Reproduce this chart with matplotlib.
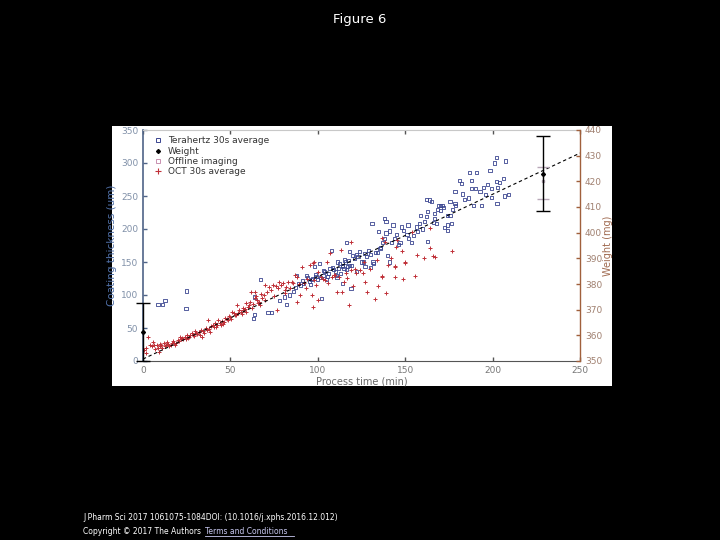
import matplotlib
matplotlib.use("Agg")
import matplotlib.pyplot as plt
from matplotlib.lines import Line2D

# ---------------- data ----------------
oct_t = [0.5, 1.5, 2, 3, 4, 5, 6, 7, 8, 9, 9.5, 10, 11, 12, 13, 14, 15, 16, 17, 18,
         19, 20, 21, 22, 23, 24, 25, 26, 27, 28, 29, 30, 31, 32, 33, 34, 35, 36, 37, 38,
         39, 40, 41, 42, 43, 44, 45, 46, 47, 48, 49, 50, 51, 52, 53, 54, 55, 56, 57, 58,
         59, 60, 61, 62, 63, 64, 65, 66, 68, 69,
         6.5, 8.5, 10.5, 12.5, 14.5, 16.5, 18.5, 20.5, 22.5, 24.5, 26.5, 28.5, 30.5, 32.5,
         34.5, 36.5, 38.5, 40.5, 42.5, 44.5, 46.5, 48.5, 50.5, 52.5, 54.5, 56.5, 58.5,
         60.5, 62.5, 64.5, 66.5, 67.5, 71, 73, 75, 77, 79, 81, 82, 86, 89,
         113, 107, 105, 95.5, 91, 100, 87, 80, 74.5, 70, 64, 90, 96.5, 111, 114, 100, 97,
         118, 76.5, 59, 57, 67, 70, 72, 76, 78, 83, 85, 88, 92, 94, 98, 103, 106, 108,
         110, 112, 115, 119, 122, 97.4, 98, 88, 84, 81, 93, 99, 102, 104, 109, 116, 121,
         136.5, 138.6, 145.5, 148, 145, 153.7, 164, 164, 161, 167, 150, 142, 134, 144,
         136.5, 144, 155.6, 124, 127, 120, 116.5, 134.7, 126.7, 119, 126, 137, 149, 139,
         133, 128, 166, 177, 144, 150, 130, 140, 157]
oct_thickness = [17, 12, 20, 36, 25, 22, 29, 18, 24, 14, 22, 26, 20, 27, 24, 29, 22, 25, 30, 27,
                 28, 32, 37, 33, 34, 36, 39, 35, 40, 42, 38, 45, 41, 44, 47, 36, 42, 50, 62, 48,
                 53, 55, 57, 52, 62, 58, 60, 56, 65, 63, 68, 66, 75, 72, 70, 85, 78, 74, 80, 77,
                 75, 82, 90, 105, 86, 95, 92, 88, 96, 100,
                 25, 20, 24, 22, 26, 28, 25, 30, 35, 33, 37, 40, 43, 40, 45, 47, 44, 51, 55,
                 54, 59, 62, 63, 69, 73, 71, 79, 85, 80, 98, 90, 101, 104, 108, 98, 110, 115,
                 108, 112, 118, 116,
                 168, 163, 150, 145, 143, 135, 130, 118, 115, 115, 105, 100, 100, 105, 105, 92, 82,
                 85, 77, 88, 77, 85, 92, 112, 113, 120, 120, 120, 128, 118, 125, 123, 125, 118, 128,
                 130, 128, 120, 138, 133, 148, 150, 90, 110, 103, 110, 115, 127, 122, 130, 133, 140,
                 186, 180, 184, 166, 173, 196, 201, 171, 156, 158, 150, 156, 153, 143,
                 128, 128, 129, 138, 120, 113, 126, 113, 150, 181, 133, 129, 124, 103,
                 94, 104, 159, 167, 144, 148, 140, 146, 160]

thz_t = [8.6, 10.9, 12.6, 25, 24.6,
         63, 64, 64, 67, 71.5, 73.6, 78, 81, 82, 86, 88, 93.6, 96.5, 98, 100, 101, 102,
         105, 108, 111, 111.5, 114, 114, 116.5, 117, 118, 119, 120,
         84, 87, 90, 92, 95, 97, 99, 103, 104, 106, 107, 109, 110, 112, 113, 115, 116,
         89, 91, 94, 96, 98.5, 101.5, 103.5, 105.5, 108.5, 110.5, 112.5, 117.5, 119.5,
         114, 115.5, 116.5, 118, 121, 122, 122, 124, 127, 127, 130, 130, 131, 131.6,
         134.7, 135.6, 137, 138, 139, 139, 141, 141, 143, 145, 147, 148, 151, 151.6,
         153.7, 156.5, 158, 159, 162, 162, 163, 163, 164, 165, 167, 167, 168, 168.6,
         169, 170, 171.4, 172, 172.7, 174, 174, 174, 175.6, 175.6, 176.6, 178.5, 178.5,
         179, 181, 182, 183, 186, 187, 188, 188, 189, 191, 192.8, 193.7, 195, 197,
         198.5, 199.4, 199.4, 202, 202, 202.5, 203, 204, 206, 207, 207.6, 209, 201,
         125, 128, 133, 136, 144, 132, 140, 146, 155, 160,
         123, 126, 129, 134, 138, 142, 149, 152, 157, 161, 166, 170, 177, 184, 190, 196]
thz_thickness = [86, 85, 91, 106, 79,
                 65, 70, 97, 123, 73, 73, 92, 97, 85, 105, 130, 130, 123, 143, 123, 148, 95,
                 123, 168, 126, 150, 145, 118, 179, 143, 166, 110, 160,
                 100, 112, 115, 118, 120, 125, 128, 130, 135, 132, 140, 138, 135, 140, 132, 140, 150,
                 118, 122, 127, 116, 131, 127, 137, 128, 142, 130, 148, 152, 145,
                 143, 153, 138, 145, 155, 161, 136, 166, 163, 143, 161, 141, 209, 150,
                 196, 171, 179, 216, 194, 212, 197, 150, 206, 191, 179, 203, 191, 206,
                 179, 203, 209, 221, 245, 219, 226, 181, 244, 241, 216, 224, 209, 230,
                 235, 236, 236, 232, 202, 206, 221, 198, 221, 242, 209, 238, 257,
                 236, 274, 269, 253, 247, 286, 274, 262, 236, 286, 257, 235, 263, 268,
                 289, 262, 248, 308, 272, 238, 263, 271, 276, 250, 303, 252, 300,
                 150, 158, 165, 172, 185, 148, 160, 176, 190, 200,
                 158, 150, 168, 164, 186, 180, 198, 186, 196, 212, 210, 228, 230, 245, 262, 252]

fit_t = [0, 250]
fit_thickness = [3, 315]

weight_t = [0, 228.8]
weight_mg = [361.3, 423.0]
weight_err = [11.3, 14.5]

offline_t = [228.8]
offline_mg = [420.0]
offline_err_low = [7.0]
offline_err_high = [5.7]

x_ticks = [0, 50, 100, 150, 200, 250]
left_ticks = [0, 50, 100, 150, 200, 250, 300, 350]
right_ticks = [350, 360, 370, 380, 390, 400, 410, 420, 430, 440]

# ---------------- figure ----------------
plt.rcParams['font.family'] = ['DejaVu Sans']
fig = plt.figure(figsize=(7.2, 5.4), dpi=100, facecolor="black")

panel = fig.add_axes([112 / 720, 1 - 386 / 540, 500 / 720, 260 / 540])
panel.set_facecolor("white")
panel.set_xticks([]); panel.set_yticks([])
for s in panel.spines.values():
    s.set_visible(False)

ax = fig.add_axes([143 / 720, 1 - 361 / 540, 437 / 720, 231 / 540])
ax.set_facecolor("white")
ax2 = ax.twinx()

thz_col = "#3a4590"
oct_col = "#c03038"
off_col = "#c890b0"
left_col = "#4f6488"
right_col = "#a0603c"

ax.scatter(thz_t, thz_thickness, s=5, marker="s", facecolors="none",
           edgecolors=thz_col, linewidths=0.6, label="Terahertz 30s average", zorder=3)
ax.scatter(oct_t, oct_thickness, s=9, marker="+", color=oct_col,
           linewidths=0.7, label="OCT 30s average", zorder=3)
ax.plot(fit_t, fit_thickness, color="black", lw=0.8, ls=(0, (3, 2.5)), zorder=4)

ax2.errorbar(weight_t, weight_mg, yerr=weight_err, fmt="D", ms=2, color="black",
             ecolor="black", elinewidth=1.0, capsize=5, capthick=1.0, clip_on=False, zorder=5)
ax2.errorbar(offline_t, offline_mg, yerr=[offline_err_low, offline_err_high], fmt="s", ms=2,
             mfc="none", mec="#b0a0b0", ecolor="#b8a8b8", elinewidth=0.8, capsize=4,
             capthick=1.0, zorder=4)

ax.set_xlim(0, 250)
ax.set_ylim(0, 350)
ax2.set_ylim(350, 440)
ax.set_xticks(x_ticks)
ax.set_yticks(left_ticks)
ax2.set_yticks(right_ticks)

ax.tick_params(axis="x", direction="in", top=True, length=3, labelsize=6.5,
               colors="#555555", labelcolor="#777777", width=1.0)
ax.tick_params(axis="y", direction="in", right=False, length=3, labelsize=6.5,
               colors=left_col, labelcolor="#8090a8", width=1.0)
ax2.tick_params(axis="y", direction="in", length=3, labelsize=6.5,
                colors=right_col, labelcolor="#a08070", width=1.0)

ax.spines["left"].set_color(left_col)
ax.spines["left"].set_linewidth(1.2)
ax.spines["bottom"].set_color("#555555")
ax.spines["top"].set_color("#c8c8c8")
ax.spines["right"].set_visible(False)
ax2.spines["left"].set_visible(False)
ax2.spines["top"].set_visible(False)
ax2.spines["bottom"].set_visible(False)
ax2.spines["right"].set_color(right_col)
ax2.spines["right"].set_linewidth(1.0)

ax.set_xlabel("Process time (min)", fontsize=7, color="#666666", labelpad=1)
ax.set_ylabel("Coating thickness (um)", fontsize=7.5, color="#5070a8", labelpad=3)
ax2.set_ylabel("Weight (mg)", fontsize=7, color="#a06a50", labelpad=1)

handles = [
    Line2D([], [], ls="none", marker="s", ms=3, mfc="none", mec=thz_col, mew=0.7),
    Line2D([], [], ls="none", marker="D", ms=2, color="black"),
    Line2D([], [], ls="none", marker="s", ms=3, mfc="none", mec=off_col, mew=0.7),
    Line2D([], [], ls="none", marker="+", ms=4, color=oct_col, mew=0.8),
]
labels = ["Terahertz 30s average", "Weight", "Offline imaging", "OCT 30s average"]
leg = ax.legend(handles, labels, loc="upper left", frameon=False, fontsize=6.5,
                handlelength=1.0, handletextpad=0.6, labelspacing=0.15,
                borderaxespad=0.3, bbox_to_anchor=(0.01, 1.0))
for t in leg.get_texts():
    t.set_color("#333333")

fig.text(0.5, 1 - 19 / 540, "Figure 6", color="white", fontsize=9.5, ha="center", va="center")
fig.text(83 / 720, 1 - 518 / 540,
         "J Pharm Sci 2017 1061075-1084DOI: (10.1016/j.xphs.2016.12.012)",
         color="white", fontsize=5.5, ha="left", va="center")
fig.text(83 / 720, 1 - 532 / 540, "Copyright © 2017 The Authors",
         color="white", fontsize=5.5, ha="left", va="center")
fig.text(205 / 720, 1 - 532 / 540, "Terms and Conditions",
         color="#c8c8f0", fontsize=5.5, ha="left", va="center")
fig.add_artist(Line2D([205 / 720, 294 / 720], [1 - 536 / 540, 1 - 536 / 540],
                      color="#c8c8f0", lw=0.6))

fig.savefig("out.png", dpi=100, facecolor="black")
